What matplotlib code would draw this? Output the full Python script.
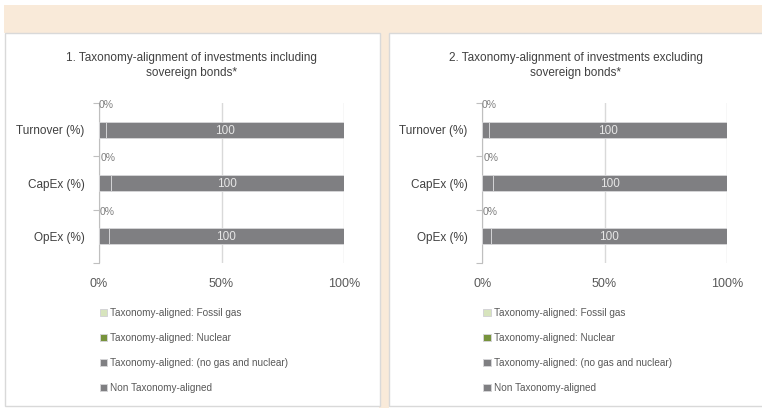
import matplotlib
matplotlib.use("Agg")
import matplotlib.pyplot as plt
from matplotlib.patches import Rectangle

plt.rcParams["font.family"] = ["Liberation Sans Narrow", "Liberation Sans", "DejaVu Sans"]

categories = ["Turnover (%)", "CapEx (%)", "OpEx (%)"]
series_names = [
    "Taxonomy-aligned: Fossil gas",
    "Taxonomy-aligned: Nuclear",
    "Taxonomy-aligned: (no gas and nuclear)",
    "Non Taxonomy-aligned",
]
series_colors = ["#d7e4bd", "#77933c", "#7f7f82", "#7f7f82"]

# chart 1: including sovereign bonds
incl_fossil = [0, 0, 0]
incl_nuclear = [0, 0, 0]
incl_aligned = [2.7, 4.8, 4.0]
incl_non_aligned = [97.3, 95.2, 96.0]

# chart 2: excluding sovereign bonds
excl_fossil = [0, 0, 0]
excl_nuclear = [0, 0, 0]
excl_aligned = [2.6, 4.5, 3.7]
excl_non_aligned = [97.4, 95.5, 96.3]

aligned_labels = ["0%", "0%", "0%"]
non_aligned_labels = ["100", "100", "100"]

titles = [
    "1. Taxonomy-alignment of investments including\nsovereign bonds*",
    "2. Taxonomy-alignment of investments excluding\nsovereign bonds*",
]
xticks = [0, 50, 100]
xtick_labels = ["0%", "50%", "100%"]

W, H = 762, 408
fig = plt.figure(figsize=(W / 100, H / 100), dpi=100)
fig.patch.set_facecolor("white")

peach = "#f9ead9"
border = "#d9d9d9"


def px_rect(x0, y0, x1, y1, **kw):
    # pixel coords from top-left -> figure fraction rectangle
    return Rectangle((x0 / W, 1 - y1 / H), (x1 - x0) / W, (y1 - y0) / H,
                     transform=fig.transFigure, zorder=-5, **kw)


fig.patches.append(px_rect(4, 5, 762, 33, facecolor=peach, edgecolor="none"))
fig.patches.append(px_rect(379, 33, 389, 408, facecolor=peach, edgecolor="none"))
fig.patches.append(px_rect(5, 33, 379.5, 406, facecolor="white", edgecolor=border, lw=1))
fig.patches.append(px_rect(388.5, 33, 770, 406, facecolor="white", edgecolor=border, lw=1))


def draw_panel(x0, x1, title_x, title, fossil, nuclear, aligned, non_aligned):
    ax = fig.add_axes([x0 / W, 1 - 263 / H, (x1 - x0) / W, 160 / H])
    y = list(range(len(categories)))
    h = 0.3
    left = [0] * len(categories)
    handles = []
    for vals, name, col in zip([fossil, nuclear, aligned, non_aligned],
                               series_names, series_colors):
        b = ax.barh(y, vals, left=left, height=h, color=col,
                    edgecolor="#d4d4d6", linewidth=0.7, label=name, zorder=3)
        handles.append(b)
        left = [l + v for l, v in zip(left, vals)]

    for i in y:
        ax.text(aligned[i] / 2 + 1.5, i - 0.46, aligned_labels[i], ha="center",
                va="center", fontsize=7.5, color="#7f7f7f", zorder=4)
        ax.text(aligned[i] + non_aligned[i] / 2, i + 0.02, non_aligned_labels[i],
                ha="center", va="center", fontsize=8.5, color="#e6e6e6", zorder=4)

    ax.set_xlim(0, 100)
    ax.set_ylim(len(categories) - 0.5, -0.5)
    ax.set_xticks(xticks)
    ax.set_xticklabels(xtick_labels)
    ax.tick_params(axis="x", length=0, pad=11, labelsize=9, labelcolor="#595959")
    ax.set_yticks(y)
    ax.set_yticklabels(categories)
    ax.tick_params(axis="y", length=0, pad=10.5, labelsize=8.5, labelcolor="#404040")
    ax.set_yticks([i - 0.5 for i in range(len(categories) + 1)], minor=True)
    ax.tick_params(axis="y", which="minor", length=4, color="#bfbfbf", width=0.8)
    for s in ["top", "right", "bottom"]:
        ax.spines[s].set_visible(False)
    ax.spines["left"].set_color("#bfbfbf")
    ax.spines["left"].set_linewidth(0.8)
    ax.set_axisbelow(True)
    ax.grid(axis="x", color="#d9d9d9", linewidth=1)
    ax.set_facecolor("none")

    fig.text(title_x / W, 1 - 52 / H, title, ha="center", va="top",
             fontsize=8.5, color="#404040", linespacing=1.35)

    ax.legend(handles=handles, loc="upper left", bbox_to_anchor=(0.004, -0.283),
              frameon=False, fontsize=7.2, labelcolor="#595959",
              handlelength=0.75, handleheight=0.75, handletextpad=0.3,
              labelspacing=1.5, borderpad=0, borderaxespad=0)


draw_panel(99, 344, 191.5, titles[0], incl_fossil, incl_nuclear, incl_aligned, incl_non_aligned)
draw_panel(482.3, 726.7, 575.5, titles[1], excl_fossil, excl_nuclear, excl_aligned, excl_non_aligned)

fig.savefig("out.png", dpi=100, facecolor=fig.get_facecolor())
